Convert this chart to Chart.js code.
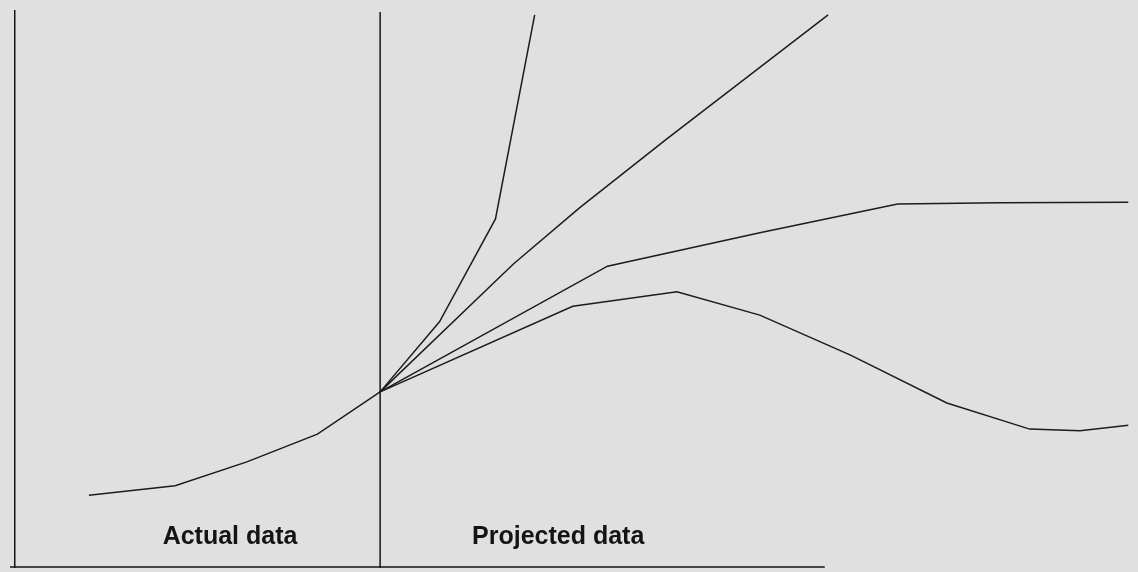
<!DOCTYPE html>
<html>
<head>
<meta charset="utf-8">
<script src="https://cdn.jsdelivr.net/npm/chart.js@4"></script>
<style>
    html, body { margin: 0; padding: 0; background: #e0e0e0; }
    #wrap { width: 1138px; height: 572px; }
</style>
</head>
<body>
<div id="wrap"><canvas id="projectionChart"></canvas></div>
<script>
// time runs 0..100 along x, population 0..100 up y (no ticks in the original)
const actualX = [6.6, 14.3, 20.7, 27.0, 32.6];
const actualY = [12.9, 14.6, 18.9, 23.9, 31.5];

const highX = [32.6, 37.9, 42.9, 46.4];
const highY = [31.5, 44.1, 62.6, 99.3];

const upperX = [32.6, 44.5, 50.4, 58.2, 72.6];
const upperY = [31.5, 54.5, 64.6, 77.0, 99.3];

const middleX = [32.6, 52.9, 66.5, 78.8, 87.9, 99.4];
const middleY = [31.5, 54.1, 60.1, 65.3, 65.5, 65.6];

const lowX = [32.6, 49.8, 59.1, 66.5, 74.6, 83.2, 90.6, 95.1, 99.4];
const lowY = [31.5, 46.9, 49.5, 45.3, 38.1, 29.5, 24.8, 24.5, 25.5];

const projectionStart = 32.6;
const baselineEnd = 72.3;
const labels = ['Actual data', 'Projected data'];

const toPoints = (xs, ys) => xs.map((x, i) => ({ x, y: ys[i] }));

const lineStyle = {
    borderColor: '#1c1c1c',
    borderWidth: 1.5,
    pointRadius: 0,
    tension: 0,
    fill: false,
};

// divider, bottom baseline and the two region labels
const decorations = {
    id: 'decorations',
    afterDatasetsDraw(chart) {
        const { ctx, chartArea, scales } = chart;
        const xs = scales.x;
        const ys = scales.y;

        ctx.save();
        ctx.strokeStyle = '#151515';
        ctx.lineWidth = 1.5;

        const divX = xs.getPixelForValue(projectionStart);
        ctx.beginPath();
        ctx.moveTo(divX, chartArea.top + 1);
        ctx.lineTo(divX, chartArea.bottom + 1);
        ctx.stroke();

        ctx.beginPath();
        ctx.moveTo(chartArea.left - 5, chartArea.bottom);
        ctx.lineTo(xs.getPixelForValue(baselineEnd), chartArea.bottom);
        ctx.stroke();

        ctx.fillStyle = '#141414';
        ctx.font = 'bold 25px "Liberation Sans", Arial, sans-serif';
        ctx.textAlign = 'center';
        ctx.textBaseline = 'alphabetic';
        const baseY = ys.getPixelForValue(4.1);
        ctx.fillText(labels[0], xs.getPixelForValue(19.2), baseY);
        ctx.fillText(labels[1], xs.getPixelForValue(48.5), baseY);
        ctx.restore();
    },
};

new Chart(document.getElementById('projectionChart'), {
    type: 'line',
    data: {
        datasets: [
            { label: 'Actual', data: toPoints(actualX, actualY), ...lineStyle },
            { label: 'High', data: toPoints(highX, highY), ...lineStyle },
            { label: 'Upper', data: toPoints(upperX, upperY), ...lineStyle },
            { label: 'Middle', data: toPoints(middleX, middleY), ...lineStyle },
            { label: 'Low', data: toPoints(lowX, lowY), ...lineStyle },
        ],
    },
    options: {
        responsive: true,
        maintainAspectRatio: false,
        animation: false,
        layout: { padding: { left: 15, top: 11, right: 3, bottom: 5 } },
        plugins: {
            legend: { display: false },
            tooltip: { enabled: false },
        },
        scales: {
            x: {
                type: 'linear',
                min: 0,
                max: 100,
                ticks: { display: false },
                grid: { display: false, drawTicks: false },
                border: { display: false },
            },
            y: {
                type: 'linear',
                min: 0,
                max: 100,
                ticks: { display: false },
                grid: { display: false, drawTicks: false },
                border: { display: true, color: '#151515', width: 1.5 },
            },
        },
    },
    plugins: [decorations],
});
</script>
</body>
</html>
